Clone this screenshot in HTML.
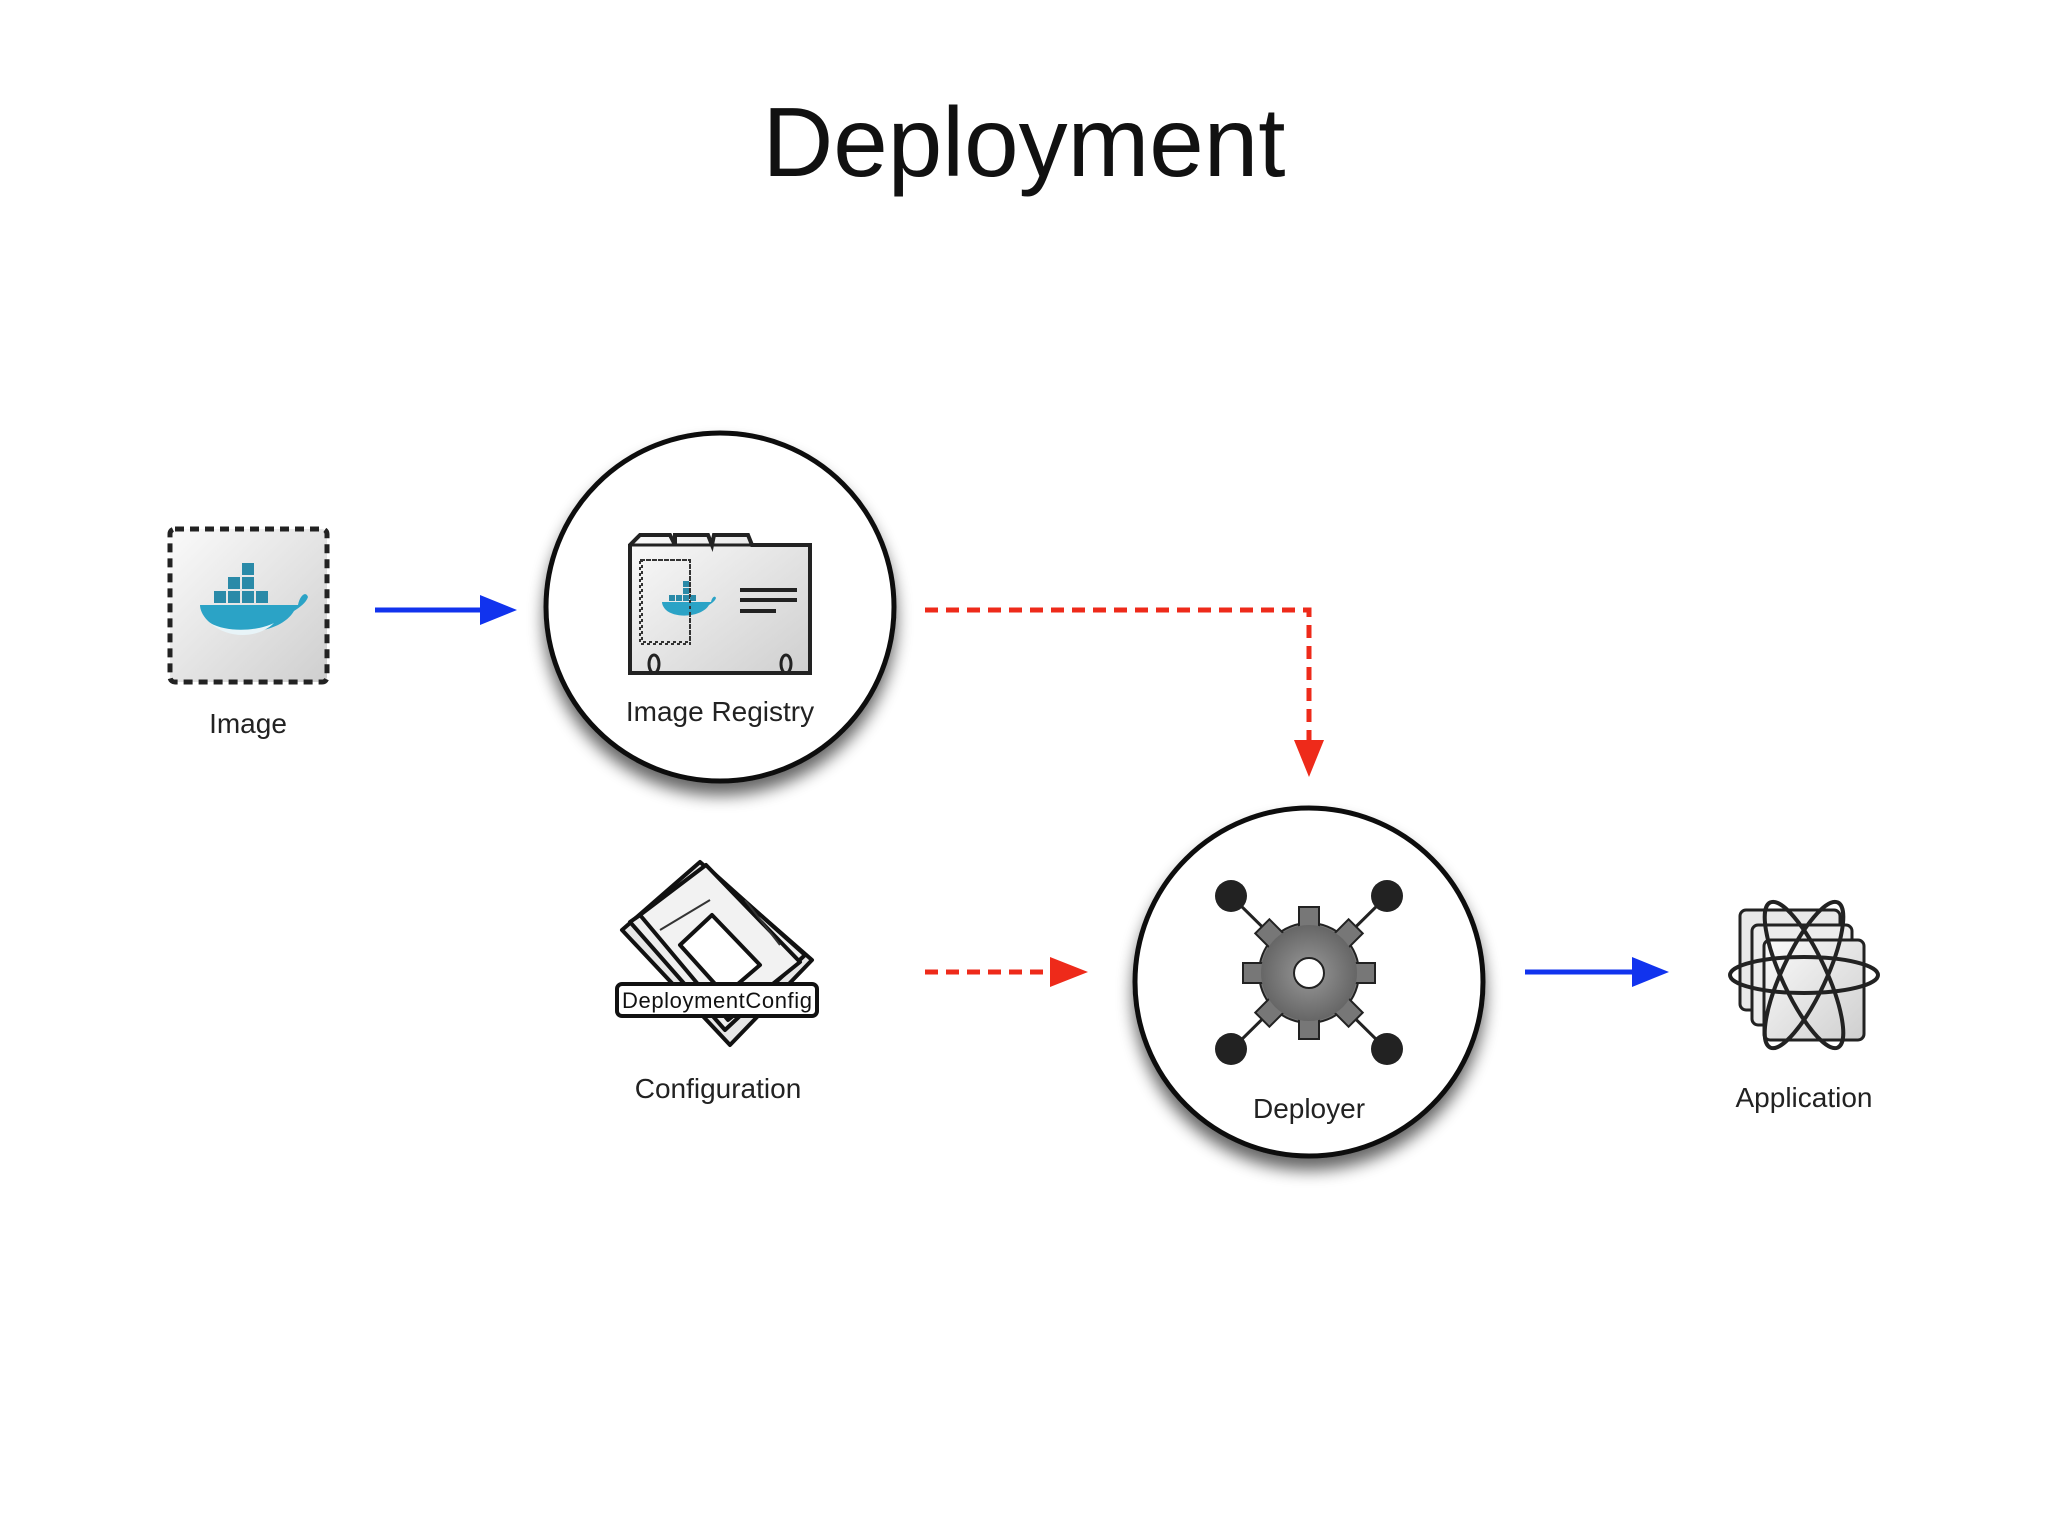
<!DOCTYPE html>
<html><head><style>html,body{margin:0;padding:0;background:#fff}svg{display:block}</style></head>
<body>
<svg width="2048" height="1536" viewBox="0 0 2048 1536" xmlns="http://www.w3.org/2000/svg" font-family="Liberation Sans, sans-serif">
<defs>
<filter id="sh" x="-30%" y="-30%" width="160%" height="170%"><feGaussianBlur in="SourceAlpha" stdDeviation="8"/><feOffset dy="12"/><feComponentTransfer><feFuncA type="linear" slope="0.6"/></feComponentTransfer><feMerge><feMergeNode/><feMergeNode in="SourceGraphic"/></feMerge></filter>
<linearGradient id="gr" x1="0" y1="0" x2="1" y2="1"><stop offset="0" stop-color="#fafafa"/><stop offset="1" stop-color="#cfcfcf"/></linearGradient>
<radialGradient id="gg"><stop offset="0" stop-color="#999"/><stop offset="1" stop-color="#666"/></radialGradient>
</defs>
<rect width="2048" height="1536" fill="#fff"/>
<text x="1024" y="176" font-size="98" text-anchor="middle" fill="#111" font-weight="300">Deployment</text>

<!-- Image -->
<rect x="170" y="529" width="157" height="153" rx="5" fill="url(#gr)" stroke="#222" stroke-width="5" stroke-dasharray="9,6"/>
<g transform="translate(248,605)">
<rect x="-34" y="-14" width="12" height="12" fill="#2a8aa8"/><rect x="-20" y="-14" width="12" height="12" fill="#2a8aa8"/><rect x="-6" y="-14" width="12" height="12" fill="#2a8aa8"/><rect x="8" y="-14" width="12" height="12" fill="#2a8aa8"/>
<rect x="-20" y="-28" width="12" height="12" fill="#2a8aa8"/><rect x="-6" y="-28" width="12" height="12" fill="#2a8aa8"/><rect x="-6" y="-42" width="12" height="12" fill="#2a8aa8"/>
<path d="M-48,0 L50,0 C52,-10 58,-14 60,-8 C58,-2 52,2 46,6 C32,30 -20,34 -40,16 C-46,10 -48,4 -48,0Z" fill="#2ba3c6"/>
<path d="M-38,18 C-20,28 10,26 26,18 C10,34 -20,34 -38,18Z" fill="#e8f4f8"/>
</g>
<text x="248" y="733" font-size="28" text-anchor="middle" fill="#222">Image</text>

<!-- blue arrow 1 -->
<line x1="375" y1="610" x2="490" y2="610" stroke="#1133ee" stroke-width="5"/>
<polygon points="480,595 517,610 480,625" fill="#1133ee"/>

<!-- Registry circle -->
<circle cx="720" cy="607" r="174" fill="#fff" stroke="#111" stroke-width="5" filter="url(#sh)"/>
<g>
<path d="M630,545 L640,535 L670,535 L675,545 L675,535 L708,535 L712,545 L714,535 L748,535 L752,545 L810,545 L810,673 L630,673 Z" fill="url(#gr)" stroke="#222" stroke-width="4"/>
<line x1="630" y1="545" x2="810" y2="545" stroke="#222" stroke-width="3"/>
<rect x="642" y="560" width="48" height="82" fill="none" stroke="#333" stroke-width="2" stroke-dasharray="3,3"/>
<g transform="translate(686,602) scale(0.5)">
<rect x="-34" y="-14" width="12" height="12" fill="#2a8aa8"/><rect x="-20" y="-14" width="12" height="12" fill="#2a8aa8"/><rect x="-6" y="-14" width="12" height="12" fill="#2a8aa8"/><rect x="8" y="-14" width="12" height="12" fill="#2a8aa8"/>
<rect x="-6" y="-28" width="12" height="12" fill="#2a8aa8"/><rect x="-6" y="-42" width="12" height="12" fill="#2a8aa8"/>
<path d="M-48,0 L50,0 C52,-10 58,-14 60,-8 C58,-2 52,2 46,6 C32,30 -20,34 -40,16 C-46,10 -48,4 -48,0Z" fill="#2ba3c6"/>
</g>
<rect x="640" y="560" width="50" height="84" fill="none" stroke="#333" stroke-width="2" stroke-dasharray="3,3"/>
<line x1="740" y1="590" x2="797" y2="590" stroke="#222" stroke-width="4"/>
<line x1="740" y1="600" x2="797" y2="600" stroke="#222" stroke-width="4"/>
<line x1="740" y1="611" x2="776" y2="611" stroke="#222" stroke-width="4"/>
<ellipse cx="654" cy="664" rx="5" ry="9" fill="none" stroke="#222" stroke-width="3"/>
<ellipse cx="786" cy="664" rx="5" ry="9" fill="none" stroke="#222" stroke-width="3"/>
</g>
<text x="720" y="721" font-size="28" text-anchor="middle" fill="#222">Image Registry</text>

<!-- red dashed to deployer -->
<polyline points="925,610 1309,610 1309,750" fill="none" stroke="#ee2a1a" stroke-width="5" stroke-dasharray="13,8"/>
<polygon points="1294,740 1324,740 1309,777" fill="#ee2a1a"/>

<!-- Config icon -->
<g stroke="#111" stroke-width="4" stroke-linejoin="round">
<polygon points="622,930 700,862 812,960 730,1045" fill="#e6e6e6"/>
<polygon points="630,922 708,868 805,955 725,1030" fill="#eee"/>
<polygon points="640,915 706,865 800,962 728,1020" fill="#f2f2f2"/>
<polygon points="680,945 712,915 760,965 725,995" fill="#fff"/>
</g>
<g stroke="#333" stroke-width="2"><line x1="660" y1="930" x2="710" y2="900"/><line x1="745" y1="900" x2="780" y2="945"/></g>
<rect x="617" y="984" width="200" height="32" rx="5" fill="#fff" stroke="#111" stroke-width="4"/>
<text x="717" y="1008" font-size="22" text-anchor="middle" fill="#111" textLength="190">DeploymentConfig</text>
<text x="718" y="1098" font-size="28" text-anchor="middle" fill="#222">Configuration</text>

<!-- red dashed 2 -->
<line x1="925" y1="972" x2="1055" y2="972" stroke="#ee2a1a" stroke-width="5" stroke-dasharray="13,8"/>
<polygon points="1050,957 1088,972 1050,987" fill="#ee2a1a"/>

<!-- Deployer circle -->
<circle cx="1309" cy="982" r="174" fill="#fff" stroke="#111" stroke-width="5" filter="url(#sh)"/>
<g stroke="#222" stroke-width="3">
<line x1="1231" y1="896" x2="1387" y2="1050"/><line x1="1387" y1="896" x2="1231" y2="1050"/>
</g>
<circle cx="1231" cy="896" r="16" fill="#222"/><circle cx="1387" cy="896" r="16" fill="#222"/>
<circle cx="1231" cy="1049" r="16" fill="#222"/><circle cx="1387" cy="1049" r="16" fill="#222"/>
<g transform="translate(1309,973)">
<g fill="#777" stroke="#222" stroke-width="2">
<circle r="50"/>
<g id="t"><rect x="-10" y="-66" width="20" height="22"/></g>
<use href="#t" transform="rotate(45)"/><use href="#t" transform="rotate(90)"/><use href="#t" transform="rotate(135)"/><use href="#t" transform="rotate(180)"/><use href="#t" transform="rotate(225)"/><use href="#t" transform="rotate(270)"/><use href="#t" transform="rotate(315)"/>
</g>
<circle r="48" fill="url(#gg)"/>
<circle r="15" fill="#fff" stroke="#222" stroke-width="2"/>
</g>
<text x="1309" y="1118" font-size="28" text-anchor="middle" fill="#222">Deployer</text>

<!-- blue arrow 2 -->
<line x1="1525" y1="972" x2="1640" y2="972" stroke="#1133ee" stroke-width="5"/>
<polygon points="1632,957 1669,972 1632,987" fill="#1133ee"/>

<!-- Application -->
<g stroke="#222" stroke-width="3">
<rect x="1740" y="910" width="100" height="100" rx="6" fill="#e8e8e8"/>
<rect x="1752" y="925" width="100" height="100" rx="6" fill="#ececec"/>
<rect x="1764" y="940" width="100" height="100" rx="6" fill="url(#gr)"/>
</g>
<g fill="none" stroke="#222" stroke-width="4">
<ellipse cx="1804" cy="975" rx="74" ry="18"/>
<ellipse cx="1804" cy="975" rx="22" ry="80" transform="rotate(-25 1804 975)"/>
<ellipse cx="1804" cy="975" rx="22" ry="80" transform="rotate(25 1804 975)"/>
</g>
<text x="1804" y="1107" font-size="28" text-anchor="middle" fill="#222">Application</text>
</svg>
</body></html>
